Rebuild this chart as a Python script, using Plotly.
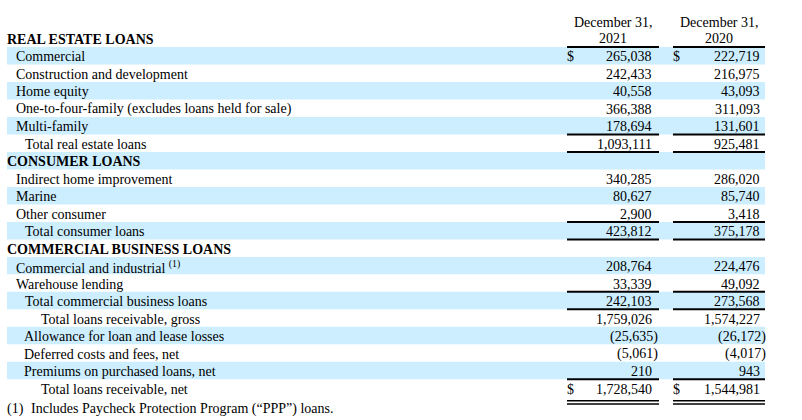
import plotly.graph_objects as go

# ---------------- data ----------------
row_labels = [
    "REAL ESTATE LOANS",
    "Commercial",
    "Construction and development",
    "Home equity",
    "One-to-four-family (excludes loans held for sale)",
    "Multi-family",
    "Total real estate loans",
    "CONSUMER LOANS",
    "Indirect home improvement",
    "Marine",
    "Other consumer",
    "Total consumer loans",
    "COMMERCIAL BUSINESS LOANS",
    "Commercial and industrial <sup>(1)</sup>",
    "Warehouse lending",
    "Total commercial business loans",
    "Total loans receivable, gross",
    "Allowance for loan and lease losses",
    "Deferred costs and fees, net",
    "Premiums on purchased loans, net",
    "Total loans receivable, net",
]
row_kind = [
    "section", "item", "item", "item", "item", "item", "total",
    "section", "item", "item", "item", "total",
    "section", "item", "item", "total", "grand",
    "adjust", "adjust", "adjust", "grand",
]
col_header_top = ["December 31,", "December 31,"]
col_header_year = ["2021", "2020"]
values_2021 = [None, 265038, 242433, 40558, 366388, 178694, 1093111,
               None, 340285, 80627, 2900, 423812,
               None, 208764, 33339, 242103, 1759026,
               -25635, -5061, 210, 1728540]
values_2020 = [None, 222719, 216975, 43093, 311093, 131601, 925481,
               None, 286020, 85740, 3418, 375178,
               None, 224476, 49092, 273568, 1574227,
               -26172, -4017, 943, 1544981]
dollar_rows = [1, 20]
rule_above_rows = [1, 6, 7, 11, 12, 15, 16, 20]
double_rule_below_rows = [20]
footnote_mark = "(1)"
footnote_text = "Includes Paycheck Protection Program (\u201cPPP\u201d) loans."

# ---------------- style ----------------
FONT = "Liberation Serif, Times New Roman, serif"
FS = 14
SHADE = "#CCEEFF"
indent_x = {"section": 7, "item": 16, "total": 25, "adjust": 24, "grand": 41}
col_left = [567, 673]
col_right = [659, 765]
num_right = [652, 760]
paren_right = [658, 765.5]
shade_x0, shade_x1 = 7, 765

n_rows = len(row_labels)
ppr = 17.49          # pixels per row
y0_px = 38.25        # pixel center of row 0
H = 420
dy = 1.0 / ppr       # small downward nudge of text

fig = go.Figure()
# invisible trace to establish axes
fig.add_trace(go.Scatter(x=[0, 802], y=[0, n_rows - 1], mode="markers",
                         marker=dict(opacity=0, size=1), hoverinfo="skip", showlegend=False))

shapes = []
annotations = []

def ann(x, y, text, anchor="left", bold=False, size=FS):
    annotations.append(dict(
        x=x, y=y + dy, xref="x", yref="y", text=("<b>%s</b>" % text) if bold else text,
        showarrow=False, xanchor=anchor, yanchor="middle",
        font=dict(family=FONT, size=size, color="#000000"),
        borderpad=0, borderwidth=0, align="center" if anchor == "center" else anchor,
    ))

# shading
for i in range(n_rows):
    if i % 2 == 1:
        shapes.append(dict(type="rect", xref="x", yref="y", x0=shade_x0, x1=shade_x1,
                           y0=i - 0.5, y1=i + 0.5, fillcolor=SHADE, line=dict(width=0),
                           layer="below"))

# header
for c in range(2):
    xc = (col_left[c] + col_right[c]) / 2
    ann(xc, -0.95, col_header_top[c], anchor="center")
    ann(xc, -0.05, col_header_year[c], anchor="center")

# labels
for i, lab in enumerate(row_labels):
    kind = row_kind[i]
    ann(indent_x[kind], i, lab, bold=(kind == "section"))

# numbers
def fmt(v):
    s = "{:,}".format(abs(v))
    return "(%s)" % s if v < 0 else s

for c, vals in enumerate([values_2021, values_2020]):
    for i, v in enumerate(vals):
        if v is None:
            continue
        if v < 0:
            ann(paren_right[c], i, fmt(v), anchor="right")
        else:
            ann(num_right[c], i, fmt(v), anchor="right")
        if i in dollar_rows:
            ann(col_left[c], i, "$", anchor="left")

# rules
for r in rule_above_rows:
    for c in range(2):
        shapes.append(dict(type="line", xref="x", yref="y", x0=col_left[c], x1=col_right[c],
                           y0=r - 0.5, y1=r - 0.5, line=dict(color="#000000", width=2)))
for r in double_rule_below_rows:
    for off in (4.0 / ppr, 7.2 / ppr):
        for c in range(2):
            shapes.append(dict(type="line", xref="x", yref="y", x0=col_left[c], x1=col_right[c],
                               y0=r + 0.5 + off, y1=r + 0.5 + off,
                               line=dict(color="#000000", width=1.6)))

# footnote
ann(7, n_rows + 0.12, footnote_mark)
ann(31, n_rows + 0.12, footnote_text)

y_top = -y0_px / ppr
y_bot = (H - y0_px) / ppr

fig.update_layout(
    width=802, height=420,
    margin=dict(l=0, r=0, t=0, b=0),
    paper_bgcolor="white", plot_bgcolor="white",
    xaxis=dict(range=[0, 802], visible=False, fixedrange=True),
    yaxis=dict(range=[y_bot, y_top], visible=False, fixedrange=True),
    shapes=shapes, annotations=annotations, showlegend=False,
)

fig.write_html("out.html", config={"displayModeBar": False},
               post_script="document.body.style.margin='0';document.body.style.padding='0';")
